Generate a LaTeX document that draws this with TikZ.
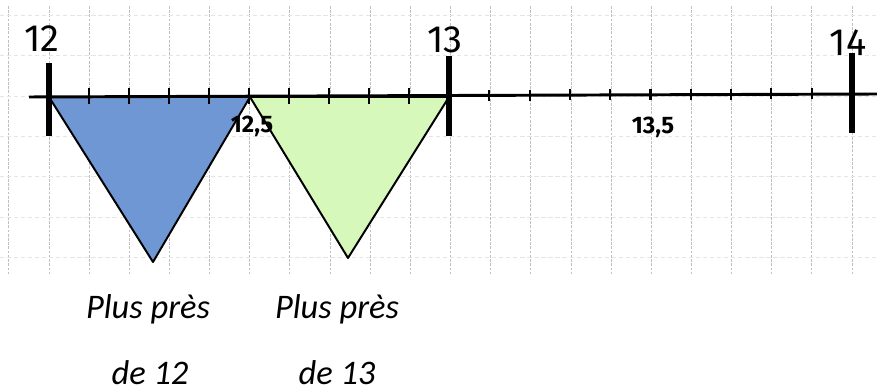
\documentclass[tikz,border=0pt]{standalone}
\usepackage{fontspec}
\setmainfont{Carlito}
\newfontfamily\handfont{Fira Sans}
\usetikzlibrary{positioning}
\definecolor{nearblue}{RGB}{110,151,211}
\definecolor{neargreen}{RGB}{214,248,186}

\begin{document}
\begin{tikzpicture}[
    x=0.025cm, y=-0.025cm,
    gridv/.style={gray!50, line width=0.6pt, dash pattern=on 2pt off 1pt},
    gridh/.style={gray!20, line width=0.5pt, dash pattern=on 3pt off 2pt},
    zone/.style={draw=black, line width=1.4pt, line join=round},
    axis/.style={line width=2.1pt},
    major/.style={line width=4.5pt},
    minor/.style={line width=2pt},
    num/.style={font=\handfont\fontsize{27}{31}\selectfont, anchor=base, inner sep=0pt},
    half/.style={font=\handfont\bfseries\fontsize{17}{20}\selectfont, anchor=base, inner sep=0pt},
    caption/.style={font=\itshape\fontsize{24.5}{29}\selectfont, anchor=base, inner sep=0pt}
  ]
  \useasboundingbox (0,0) rectangle (877,392);

  % squared paper
  \foreach \k in {-1,...,20}
    \draw[gridv] ({49+40.15*\k},6) -- ({49+40.15*\k},274);
  \foreach \k in {0,...,6}
    \draw[gridh] (0,{15.5+40.3*\k}) -- (877,{15.5+40.3*\k});

  % points of the line
  \coordinate (p12)  at (49,97);
  \coordinate (p125) at (250,97);
  \coordinate (p13)  at (449,97);
  \coordinate (p14)  at (852,95);
  \coordinate (lowA) at (153,262);
  \coordinate (lowB) at (348,258);
  \coordinate (start) at (29,97);
  \coordinate (stop)  at (877,94);

  % the two zones
  \filldraw[zone, fill=nearblue]  (p12) -- (lowA) -- (p125) -- cycle;
  \filldraw[zone, fill=neargreen] (p125) -- (lowB) -- (p13) -- cycle;

  % number line
  \draw[axis] (start) -- (stop);
  \foreach \k in {1,...,9} {
    \draw[minor] ({49+40*\k},88) -- ({49+40*\k},104);
    \draw[minor, line width=1.5pt] ({449+40.3*\k},{90-0.2*\k}) -- ({449+40.3*\k},{101-0.2*\k});
  }
  \draw[major] ([yshift=24]p12) -- ([yshift=-28]p12);
  \draw[major] ([yshift=29]p13) -- ([yshift=-28]p13);
  \draw[major] ([yshift=30]p14) -- ([yshift=-27]p14);

  % labels
  \node[num]  (l12)  at (42,52)  {12};
  \node[num]  (l13)  at (445,53) {13};
  \node[num]  (l14)  at (848,56) {14};
  \node[half] (l125) at (252,133) {12,5};
  \node[half] (l135) at (653,134) {13,5};

  \node[caption] (near12)  at (148,319) {Plus près};
  \node[caption] (de12)    at (150,385) {de 12};
  \node[caption] (near13)  at (337,319) {Plus près};
  \node[caption] (de13)    at (337,385) {de 13};
\end{tikzpicture}
\end{document}
